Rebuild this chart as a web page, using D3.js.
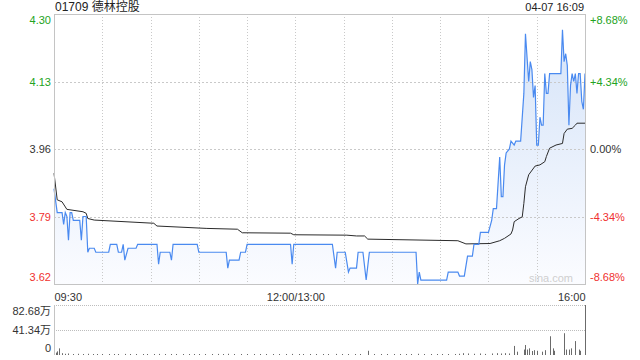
<!DOCTYPE html>
<html><head><meta charset="utf-8">
<script src="https://cdn.jsdelivr.net/npm/d3@7"></script>
<style>
html,body{margin:0;padding:0;background:#fff;}
svg text{font-family:"Liberation Sans",Arial,"Noto Sans CJK SC",sans-serif;}
</style></head>
<body><svg id="c" width="640" height="360"></svg>
<script>
// ---- data ----
const stockTitle = "01709 德林控股";
const stampLabel = "04-07 16:09";
const prevClose = 3.956;
const priceTicks = [3.62, 3.79, 3.96, 4.13, 4.30];
const priceTickLabels = ["3.62", "3.79", "3.96", "4.13", "4.30"];
const pctTickLabels = ["-8.68%", "-4.34%", "0.00%", "+4.34%", "+8.68%"];
const timeTicks = [0, 150, 330];
const timeTickLabels = ["09:30", "12:00/13:00", "16:00"];
const volTicks = [0, 41.34, 82.68];
const volTickLabels = ["0", "41.34万", "82.68万"];

// price: minute index (0 = 09:30, 330 = 16:00, lunch removed)
const priceMinutes = [0,2,5,6,7,8,9,10,11,12,16,17,18,20,21,22,25,26,34,35,39,40,42,43,44,46,51,52,64,65,66,72,73,74,89,90,107,108,109,115,116,119,120,147,148,149,173,175,176,181,183,184,188,189,192,194,196,225,226,227,228,244,245,251,252,255,257,260,261,264,265,270,272,273,275,277,278,279,280,281,283,284,286,287,290,292,293,295,296,297,298,299,300,301,302,303,304,305,306,307,308,315,316,317,318,319,320,321,322,323,324,325,326,327,328,329,330];
const priceValues  = [3.86,3.80,3.80,3.77,3.80,3.79,3.73,3.80,3.80,3.78,3.78,3.73,3.79,3.79,3.70,3.71,3.71,3.70,3.70,3.72,3.72,3.70,3.70,3.72,3.68,3.71,3.71,3.72,3.72,3.67,3.70,3.70,3.68,3.72,3.72,3.70,3.70,3.66,3.68,3.68,3.70,3.70,3.72,3.72,3.67,3.72,3.72,3.66,3.70,3.70,3.65,3.66,3.66,3.70,3.70,3.63,3.70,3.70,3.62,3.65,3.63,3.63,3.65,3.65,3.64,3.64,3.69,3.69,3.72,3.72,3.75,3.75,3.78,3.81,3.81,3.94,3.84,3.84,3.92,3.95,3.96,3.98,3.97,3.98,3.98,4.10,4.25,4.13,4.18,4.16,4.09,4.12,3.97,3.97,4.04,4.02,4.02,4.15,4.10,4.10,4.15,4.15,4.26,4.18,4.20,4.17,4.02,4.12,4.15,4.13,4.15,4.10,4.15,4.15,4.08,4.06,4.15];

// average price
const avgMinutes = [0,2,5,8,18,20,21,25,62,64,95,114,117,147,149,182,188,193,195,251,256,271,277,280,284,285,286,289,291,292,293,295,299,302,305,306,308,312,316,317,319,322,324,325,330];
const avgValues  = [3.899,3.832,3.827,3.808,3.802,3.798,3.785,3.781,3.773,3.766,3.760,3.758,3.749,3.748,3.744,3.743,3.741,3.741,3.733,3.729,3.721,3.722,3.729,3.735,3.746,3.756,3.777,3.785,3.789,3.823,3.865,3.895,3.917,3.920,3.928,3.941,3.962,3.970,3.974,3.999,4.010,4.012,4.020,4.025,4.025];

// volume (万股) per minute with trades
const volMinutes = [1,2,3,5,7,9,12,15,18,21,24,27,30,34,37,40,44,47,51,55,58,62,65,69,73,76,80,84,87,90,94,98,102,105,108,112,116,120,124,128,132,136,140,144,148,152,155,159,163,167,170,175,179,183,187,190,195,199,203,207,211,215,219,222,226,230,234,238,241,245,249,252,254,257,261,265,268,272,275,278,280,283,286,288,292,293,294,295,297,298,300,303,305,308,310,311,317,318,320,321,324,326,327,330];
const volValues  = [4,6,11,3,2,2.5,1.5,2,1.5,2,1.5,1.2,1.5,1.2,1.5,1.2,1.8,1.2,1.5,1.2,1.5,1.2,1.8,1.2,1.5,1.2,1.5,1.2,1.5,1.2,1.5,1.2,1.8,1.2,2,1.2,1.5,1.2,1.5,1.2,1.5,1.2,1.5,1.2,1.8,1.2,1.5,1.2,1.5,1.2,1.5,1.8,1.2,1.5,1.2,1.5,7,1.2,1.5,1.2,1.5,1.2,1.5,1.2,2,1.2,1.5,1.2,1.5,1.2,1.5,2,3,2.5,2,2.5,1.8,2.5,3,2.5,3,2.5,15,5.5,9,16.5,9,11,6.6,8,7,5.5,8,31,11,7,36,9,9,11,23,9,7,82.68];

// ---- chart ----
const svg = d3.select("#c");
const L = 54, R = 585, T = 14, B = 284;
const VT = 305, VB = 355;
const green = "#22a322", red = "#f0312f", dark = "#333";

const x = d3.scaleLinear().domain([0, 330]).range([L, R]);
const y = d3.scaleLinear().domain([3.62, 4.30]).range([B, T]);
const yv = d3.scaleLinear().domain([0, 82.68]).range([VB, VT]);

const defs = svg.append("defs");
const grad = defs.append("linearGradient").attr("id", "fillG")
  .attr("gradientUnits", "userSpaceOnUse").attr("x1", 0).attr("y1", T).attr("x2", 0).attr("y2", B);
grad.append("stop").attr("offset", 0).attr("stop-color", "#d3e2f8");
grad.append("stop").attr("offset", 1).attr("stop-color", "#fbfcff");

const priceData = priceMinutes.map((m, i) => ({m, v: priceValues[i]}));
const avgData = avgMinutes.map((m, i) => ({m, v: avgValues[i]}));

// area
svg.append("path").datum(priceData)
  .attr("d", d3.area().x(d => x(d.m)).y0(B).y1(d => y(d.v)))
  .attr("fill", "url(#fillG)");

// grid
const gridColor = "#c9c9c9";
const vg = d3.range(30, 330, 30);
svg.append("g").selectAll("line").data(vg).join("line")
  .attr("x1", d => Math.round(x(d)) + 0.5).attr("x2", d => Math.round(x(d)) + 0.5)
  .attr("y1", T).attr("y2", B)
  .attr("stroke", gridColor).attr("stroke-dasharray", "1,2");
svg.append("g").selectAll("line").data(priceTicks.slice(1, 4)).join("line")
  .attr("x1", L).attr("x2", R)
  .attr("y1", d => Math.round(y(d)) + 0.5).attr("y2", d => Math.round(y(d)) + 0.5)
  .attr("stroke", gridColor).attr("stroke-dasharray", "2,2");

// watermark
svg.append("text").attr("x", 573).attr("y", 279).attr("text-anchor", "end")
  .attr("dominant-baseline", "middle").attr("font-size", 11).attr("fill", "#cfcfcf").text("sina.com");

// lines
svg.append("path").datum(avgData)
  .attr("d", d3.line().x(d => x(d.m)).y(d => y(d.v)))
  .attr("fill", "none").attr("stroke", "#2b2b2b").attr("stroke-width", 1);
svg.append("path").datum(priceData)
  .attr("d", d3.line().x(d => x(d.m)).y(d => y(d.v)))
  .attr("fill", "none").attr("stroke", "#4a8af0").attr("stroke-width", 1.2);

// border
svg.append("rect").attr("x", L + 0.5).attr("y", T + 0.5).attr("width", R - L).attr("height", B - T)
  .attr("fill", "none").attr("stroke", "#c4c4c4");

// price axes
const colorFor = i => i < 2 ? red : (i === 2 ? dark : green);
const yAxisL = svg.append("g").attr("transform", `translate(${L},0)`)
  .call(d3.axisLeft(y).tickValues(priceTicks).tickSize(0).tickPadding(3)
    .tickFormat((d, i) => priceTickLabels[i]));
const yAxisR = svg.append("g").attr("transform", `translate(${R},0)`)
  .call(d3.axisRight(y).tickValues(priceTicks).tickSize(0).tickPadding(5)
    .tickFormat((d, i) => pctTickLabels[i]));
[yAxisL, yAxisR].forEach(g => {
  g.select(".domain").remove();
  g.selectAll(".tick text")
    .attr("font-size", 11).attr("font-family", null)
    .attr("fill", (d, i) => colorFor(i))
    .attr("dy", (d, i) => i === 0 ? "-0.3em" : (i === 4 ? "0.85em" : "0.32em"));
});

// time axis
const xAxis = svg.append("g").attr("transform", `translate(0,${B})`)
  .call(d3.axisBottom(x).tickValues(timeTicks).tickSize(0).tickPadding(9)
    .tickFormat((d, i) => timeTickLabels[i]));
xAxis.select(".domain").remove();
xAxis.selectAll(".tick text").attr("font-size", 11).attr("font-family", null).attr("fill", dark)
  .attr("text-anchor", (d, i) => i === 0 ? "start" : (i === 2 ? "end" : "middle"));

// volume panel
svg.append("g").selectAll("line").data(volTicks.slice(1)).join("line")
  .attr("x1", L).attr("x2", R)
  .attr("y1", d => Math.round(yv(d)) + 0.5).attr("y2", d => Math.round(yv(d)) + 0.5)
  .attr("stroke", "#bdbdbd").attr("stroke-dasharray", "1,1");
svg.append("line").attr("x1", L + 0.5).attr("x2", L + 0.5).attr("y1", VT).attr("y2", VB)
  .attr("stroke", "#c4c4c4");
svg.append("g").selectAll("line").data(volMinutes.map((m, i) => ({m, v: volValues[i]}))).join("line")
  .attr("x1", d => Math.round(x(d.m)) + 0.5).attr("x2", d => Math.round(x(d.m)) + 0.5)
  .attr("y1", VB).attr("y2", d => Math.min(yv(d.v), VB - 1))
  .attr("stroke", "#6b6b6b").attr("stroke-width", 1);
const vAxis = svg.append("g").attr("transform", `translate(${L},0)`)
  .call(d3.axisLeft(yv).tickValues(volTicks).tickSize(0).tickPadding(3)
    .tickFormat((d, i) => volTickLabels[i]));
vAxis.select(".domain").remove();
vAxis.selectAll(".tick text").attr("font-size", 11).attr("font-family", null).attr("fill", dark)
  .attr("dy", (d, i) => i === 0 ? "-0.35em" : (i === 2 ? "0.9em" : "0.32em"));

// titles
svg.append("text").attr("x", 55).attr("y", 8).attr("dominant-baseline", "middle")
  .attr("font-size", 12).attr("fill", "#222").text(stockTitle);
svg.append("text").attr("x", 584).attr("y", 8).attr("dominant-baseline", "middle").attr("text-anchor", "end")
  .attr("font-size", 11).attr("fill", "#222").text(stampLabel);
</script></body></html>
